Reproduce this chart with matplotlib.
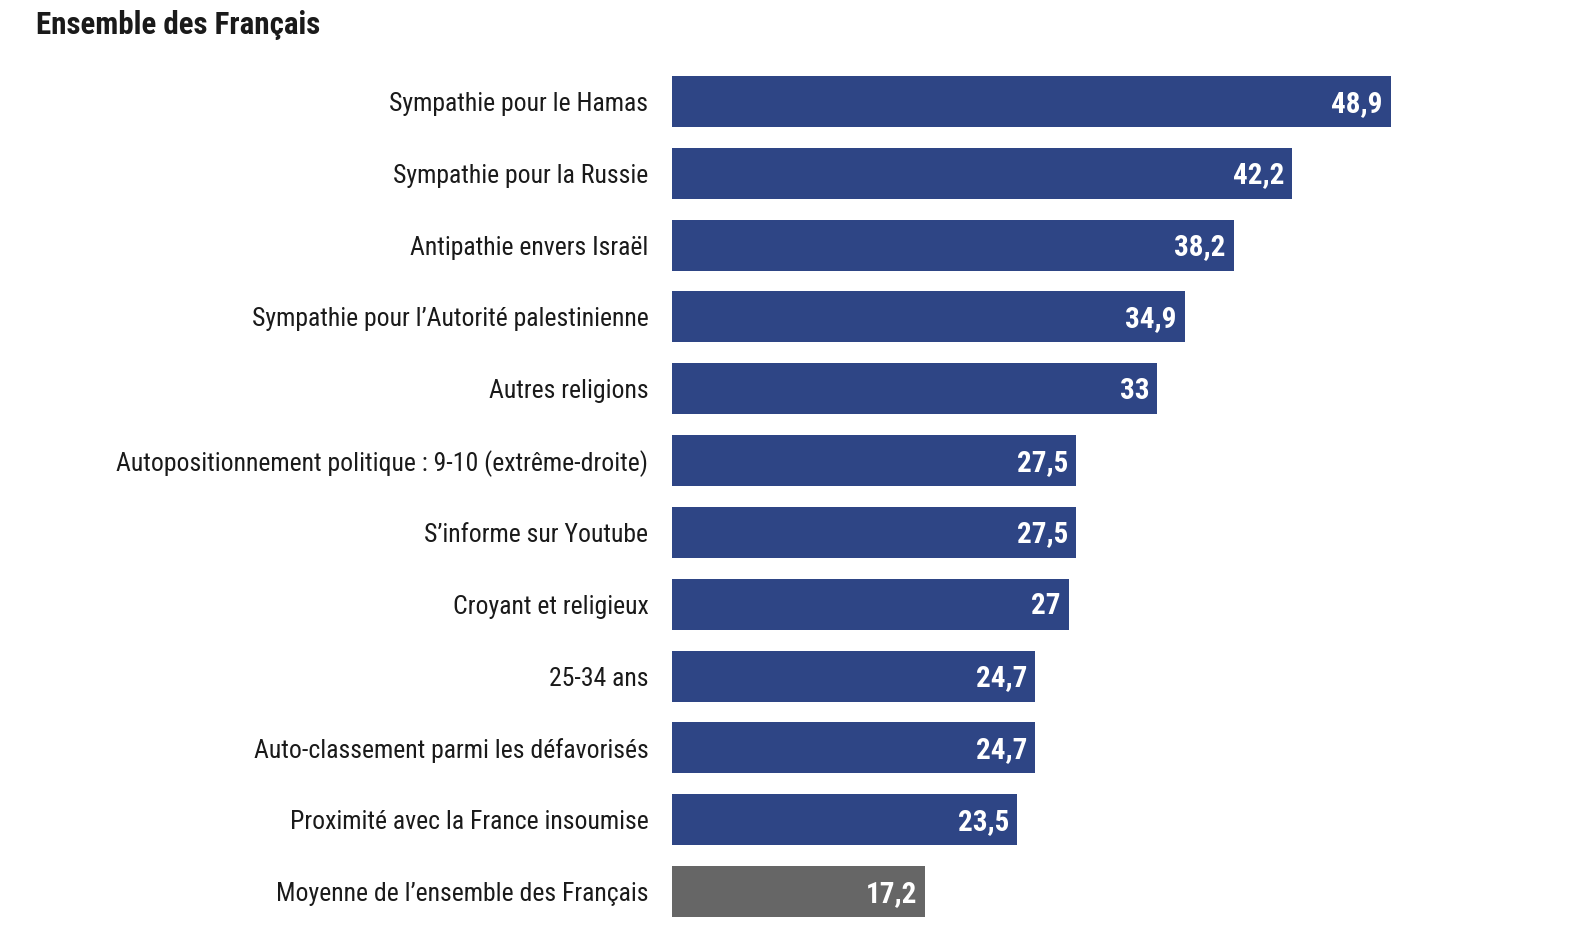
import matplotlib.pyplot as plt
from matplotlib import font_manager

labels = [
    "Sympathie pour le Hamas",
    "Sympathie pour la Russie",
    "Antipathie envers Israël",
    "Sympathie pour l\u2019Autorité palestinienne",
    "Autres religions",
    "Autopositionnement politique : 9-10 (extrême-droite)",
    "S\u2019informe sur Youtube",
    "Croyant et religieux",
    "25-34 ans",
    "Auto-classement parmi les défavorisés",
    "Proximité avec la France insoumise",
    "Moyenne de l\u2019ensemble des Français",
]
values = [48.9, 42.2, 38.2, 34.9, 33, 27.5, 27.5, 27, 24.7, 24.7, 23.5, 17.2]
value_labels = ["48,9", "42,2", "38,2", "34,9", "33", "27,5", "27,5", "27",
                "24,7", "24,7", "23,5", "17,2"]

BLUE = "#2e4585"
GREY = "#666666"

# pick a condensed sans close to Helvetica Condensed
names = {f.name for f in font_manager.fontManager.ttflist}
narrow = "DejaVu Sans"
for cand in ["Roboto Condensed", "Archivo Narrow", "PT Sans Narrow", "Barlow Semi Condensed"]:
    if cand in names:
        narrow = cand
        break
plt.rcParams['font.family'] = [narrow, 'DejaVu Sans']

W, H = 1574, 946
fig = plt.figure(figsize=(W / 100, H / 100), dpi=100)
ax = fig.add_axes([672 / W, 1 - 927.4 / H, (W - 672) / W, (927.4 - 65.6) / H])

colors = [BLUE] * (len(values) - 1) + [GREY]
ypos = list(range(len(values)))
ax.barh(ypos, values, height=0.71, color=colors, edgecolor="none")

ax.set_xlim(0, (W - 672) / 14.7)
ax.set_ylim(len(values) - 0.5, -0.5)

for y, v, t in zip(ypos, values, value_labels):
    ax.text(v - 0.55, y + 0.03, t, ha="right", va="center", color="white",
            fontsize=21, fontweight="bold")

ax.set_yticks(ypos)
ax.set_yticklabels(labels, fontsize=18.5, color="#1a1a1a")
ax.tick_params(axis="y", length=0, pad=17)
ax.set_xticks([])
for s in ax.spines.values():
    s.set_visible(False)

fig.text(36 / W, 1 - 25 / H, "Ensemble des Français", ha="left", va="center",
         fontsize=22.3, fontweight="bold", color="#1a1a1a")

fig.savefig("out.png", dpi=100)
